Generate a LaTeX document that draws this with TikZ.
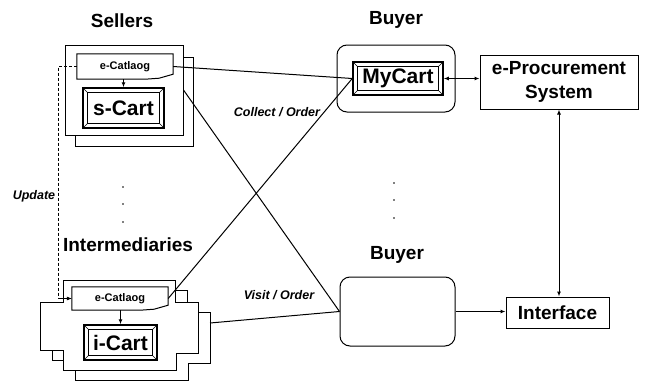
\documentclass[tikz,border=0pt]{standalone}
\usepackage{fontspec}
\setmainfont{Liberation Sans}
\usetikzlibrary{arrows.meta}

% inner frame and corner lines of a button
\newcommand\bevel[1]{%
  \draw[line width=1pt] ([shift={(5pt,-5pt)}]#1.north west) rectangle ([shift={(-5pt,5pt)}]#1.south east);
  \foreach \cn/\dx/\dy in {north west/5pt/-5pt, north east/-5pt/-5pt, south west/5pt/5pt, south east/-5pt/5pt}
    \draw[line width=0.6pt] (#1.\cn) -- ([shift={(\dx,\dy)}]#1.\cn);
}
% catalogue outline with torn corner
\newcommand\catoutline[1]{%
  \draw[line width=1pt] (#1.south west) -- (#1.north west) -- (#1.north east)
    -- ([yshift=5pt]#1.south east) -- ([xshift=-14pt,yshift=1pt]#1.south east)
    -- ([xshift=-28pt]#1.south east) -- cycle;
}

\begin{document}
\begin{tikzpicture}[x=1pt, y=-1pt,
  title/.style = {font=\fontsize{19}{22}\selectfont\bfseries},
  lbl/.style = {font=\fontsize{12.5}{14}\selectfont\bfseries\itshape},
  box/.style = {draw, line width=1pt, inner sep=0pt, font=\fontsize{19}{24}\selectfont\bfseries, align=center},
  rbox/.style = {box, rounded corners=10pt},
  button/.style = {draw, line width=1.5pt, inner sep=0pt, font=\fontsize{21}{24}\selectfont\bfseries},
  cat/.style = {inner sep=0pt, font=\fontsize{11}{13}\selectfont\bfseries},
  conn/.style = {line width=1pt},
  arr/.style = {conn, -{Latex[length=5pt,width=4pt]}},
  darr/.style = {conn, {Latex[length=5pt,width=4pt]}-{Latex[length=5pt,width=4pt]}}]
\useasboundingbox (0,0) rectangle (646,383);

% sellers
\node[title] (sellers) at (122,21) {Sellers};
\draw[fill=white, line width=1pt] (75,57) rectangle (193,146);
\node[box, fill=white, minimum width=118pt, minimum height=90pt] (sfront) at (124,90) {};
\node[cat, minimum width=96pt, minimum height=25pt] (secat) at (125,66.5) {e-Catlaog};
\catoutline{secat}
\node[button, minimum width=81pt, minimum height=40pt] (scart) at (123.5,108) {s-Cart};
\bevel{scart}
\draw[arr] (secat.south -| scart.north) -- (scart.north);

\foreach \y in {187,204,222} \fill (123,\y) circle (0.8pt);

% intermediaries
\node[title] (inter) at (128,245) {Intermediaries};
\draw[fill=white, line width=1pt] (75,290) -- (187,290) -- (187,312) -- (210,312) -- (210,363) -- (188,363)
  -- (188,380) -- (75,380) -- (75,360) -- (52,360) -- (52,312) -- (75,312) -- cycle;
\draw[fill=white, line width=1pt] (63,280) -- (175,280) -- (175,302) -- (198,302) -- (198,353) -- (176,353)
  -- (176,370) -- (63,370) -- (63,350) -- (40,350) -- (40,302) -- (63,302) -- cycle;
\coordinate (iright) at (210,323);
\node[cat, minimum width=96pt, minimum height=23pt] (icat) at (120,298.5) {e-Catlaog};
\catoutline{icat}
\node[button, minimum width=73pt, minimum height=35pt] (icart) at (120.5,342.5) {i-Cart};
\bevel{icart}
\draw[arr] (icat.south -| icart.north) -- (icart.north);

% update
\coordinate (u1) at (58,66.5);
\coordinate (u2) at (58,298.5);
\draw[line width=0.6pt, densely dashed] (secat.west) -- (u1) -- (u2);
\draw[line width=0.6pt, -{Latex[length=5pt,width=4pt]}] (u2) -- (icat.west);
\node[lbl] (update) at (34,196) {Update};

% buyers
\node[title] (buyer1) at (396,20) {Buyer};
\node[rbox, minimum width=118pt, minimum height=67pt] (bbox1) at (396,78.5) {};
\node[button, minimum width=90pt, minimum height=33pt] (mycart) at (398,78.5) {MyCart};
\bevel{mycart}

\foreach \y in {183,200,218} \fill (394,\y) circle (0.8pt);

\node[title] (buyer2) at (397,255) {Buyer};
\node[rbox, minimum width=115pt, minimum height=69pt] (bbox2) at (397.5,311.5) {};

% system
\node[box, minimum width=158pt, minimum height=54pt] (eproc) at (559,82) {e-Procurement\\System};
\node[box, minimum width=103pt, minimum height=31pt] (iface) at (557.5,312.5) {Interface};

% connections
\draw[conn] (secat.east) -- (mycart.west);
\draw[conn] (icat.east) -- (mycart.west);
\draw[conn] (sfront.east) -- (bbox2.west);
\draw[conn] (iright) -- (bbox2.west);
\draw[darr] (mycart.east) -- (mycart.east -| eproc.west);
\draw[darr] (eproc.south) -- (eproc.south |- iface.north);
\draw[arr] (bbox2.east) -- (bbox2.east -| iface.west);

\node[lbl] (collect) at (277,112) {Collect / Order};
\node[lbl] (visit) at (279,295) {Visit / Order};
\end{tikzpicture}
\end{document}
